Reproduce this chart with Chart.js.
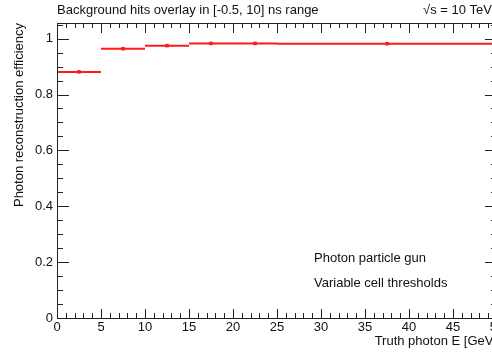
<!DOCTYPE html>
<html><head><meta charset="utf-8">
<script src="https://cdn.jsdelivr.net/npm/chart.js@4/dist/chart.umd.min.js"></script>
<style>html,body{margin:0;padding:0;overflow:hidden;background:#fff;width:492px;height:353px}canvas{display:block}</style>
</head><body>
<canvas id="c" width="512" height="353" style="width:512px;height:353px"></canvas>
<script>
const binLow  = [0, 5, 10, 15, 20, 25];
const binHigh = [5, 10, 15, 20, 25, 50];
const efficiency = [0.881, 0.964, 0.975, 0.983, 0.983, 0.982];
const effError   = [0.004, 0.002, 0.002, 0.0015, 0.0015, 0.001];
const xTicks = [0, 5, 10, 15, 20, 25, 30, 35, 40, 45, 50];
const yTicks = [0, 0.2, 0.4, 0.6, 0.8, 1];
const yTickLabels = ['0', '0.2', '0.4', '0.6', '0.8', '1'];
const titleText = 'Background hits overlay in [-0.5, 10] ns range';
const energyText = '√s = 10 TeV';
const xTitle = 'Truth photon E [GeV]';
const yTitle = 'Photon reconstruction efficiency';
const legendLines = ['Photon particle gun', 'Variable cell thresholds'];

const RED = '#ff1a1a';
const FONT = '"Liberation Sans", Arial, Helvetica, sans-serif';

const segData = [];
binLow.forEach((lo, i) => {
  segData.push({x: lo, y: efficiency[i]});
  segData.push({x: binHigh[i], y: efficiency[i]});
  segData.push({x: binHigh[i], y: null});
});
const centers = binLow.map((lo, i) => ({x: (lo + binHigh[i]) / 2, y: efficiency[i]}));

const rootAxes = {
  id: 'rootAxes',
  afterDatasetsDraw(chart) {
    const {ctx, chartArea: a, scales: {x, y}} = chart;
    ctx.save();
    // vertical error bars
    ctx.strokeStyle = RED; ctx.lineWidth = 1.5;
    centers.forEach((p, i) => {
      const px = x.getPixelForValue(p.x);
      ctx.beginPath();
      ctx.moveTo(px, y.getPixelForValue(p.y - effError[i]));
      ctx.lineTo(px, y.getPixelForValue(p.y + effError[i]));
      ctx.stroke();
    });
    ctx.strokeStyle = '#222'; ctx.lineWidth = 1;
    ctx.beginPath();
    ctx.moveTo(a.left + 0.5, a.top); ctx.lineTo(a.left + 0.5, a.bottom + 0.5); ctx.lineTo(a.right, a.bottom + 0.5);
    ctx.moveTo(a.left, a.top + 0.5); ctx.lineTo(a.right, a.top + 0.5);
    ctx.moveTo(a.right - 0.5, a.top); ctx.lineTo(a.right - 0.5, a.bottom);
    ctx.stroke();
    ctx.beginPath();
    for (let v = 0; v <= 50; v += 1) {
      const px = Math.round(x.getPixelForValue(v)) + 0.5;
      const major = v % 5 === 0;
      const L = major ? 9 : 5;
      ctx.moveTo(px, a.bottom); ctx.lineTo(px, a.bottom - L);
      ctx.moveTo(px, a.top); ctx.lineTo(px, a.top + (major ? 10 : 5));
    }
    for (let k = 0; k <= 21; k++) {
      const v = k * 0.05;
      const py = Math.round(y.getPixelForValue(v)) + 0.5;
      const major = k % 4 === 0;
      const L = major ? 12 : 6;
      ctx.moveTo(a.left, py); ctx.lineTo(a.left + L, py);
      ctx.moveTo(a.right, py); ctx.lineTo(a.right - L, py);
    }
    ctx.stroke();
    // texts
    ctx.fillStyle = '#111';
    ctx.font = '13px ' + FONT;
    ctx.textBaseline = 'middle';
    ctx.textAlign = 'left';
    ctx.fillText(titleText, 57, 10);
    ctx.fillText(energyText, 423, 10);
    ctx.fillText(legendLines[0], 314, 258);
    ctx.fillText(legendLines[1], 314, 283);
    ctx.textAlign = 'right';
    ctx.fillText(xTitle, a.right, 341);
    ctx.save();
    ctx.translate(19, a.top);
    ctx.rotate(-Math.PI / 2);
    ctx.textAlign = 'right';
    ctx.fillText(yTitle, 0, 0);
    ctx.restore();
    ctx.restore();
  }
};

new Chart(document.getElementById('c'), {
  type: 'line',
  data: {
    datasets: [
      {data: segData, borderColor: RED, borderWidth: 2, pointRadius: 0, spanGaps: false, fill: false, tension: 0},
      {data: centers, showLine: false, pointStyle: 'rect', pointRadius: 2.5, backgroundColor: RED, borderColor: RED, borderWidth: 0}
    ]
  },
  options: {
    responsive: false, animation: false,
    layout: {padding: {top: 23, right: 15, left: 0, bottom: 0}},
    plugins: {legend: {display: false}, tooltip: {enabled: false}},
    scales: {
      x: {
        type: 'linear', min: 0, max: 50,
        afterBuildTicks: s => { s.ticks = xTicks.map(v => ({value: v})); },
        afterFit: s => { s.height = 35; },
        border: {display: false}, grid: {display: false, drawTicks: false},
        ticks: {padding: 2, color: '#111', font: {family: FONT, size: 13}, maxRotation: 0, autoSkip: false,
                callback: v => String(v)}
      },
      y: {
        type: 'linear', min: 0, max: 1.056,
        afterBuildTicks: s => { s.ticks = yTicks.map(v => ({value: v})); },
        afterFit: s => { s.width = 57; },
        border: {display: false}, grid: {display: false, drawTicks: false},
        ticks: {padding: 4, color: '#111', font: {family: FONT, size: 13},
                callback: (v, i) => yTickLabels[i]}
      }
    }
  },
  plugins: [rootAxes]
});
</script>
</body></html>
